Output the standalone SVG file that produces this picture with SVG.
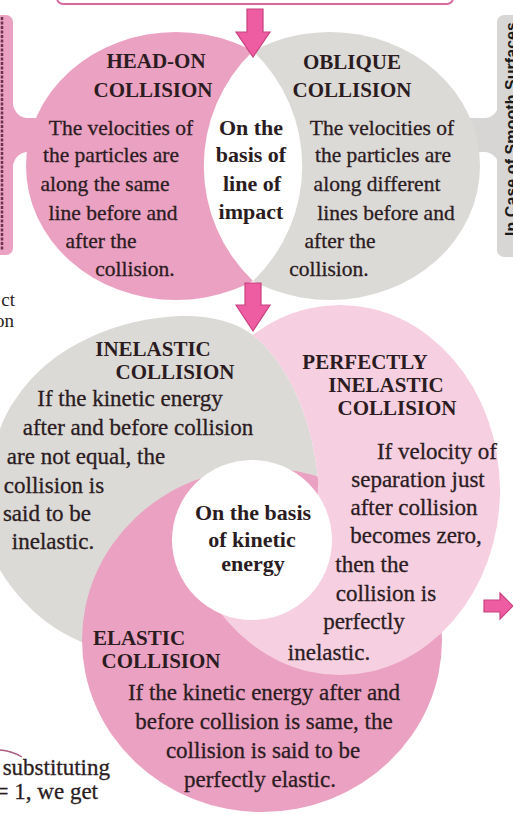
<svg xmlns="http://www.w3.org/2000/svg" width="513" height="814" viewBox="0 0 513 814">
<defs>
<style>
.t{font-family:"Liberation Serif","Times New Roman",serif;fill:#2b1c22;text-anchor:middle}
.b{font-size:21.5px;stroke:#2b1c22;stroke-width:0.3}
.bb{font-size:23px;stroke:#2b1c22;stroke-width:0.3}
.h{font-size:21px;font-weight:bold}
.c{font-size:22px;font-weight:bold}
.pink{fill:#eba1c1}
.gray{fill:#dcdad7}
.lp{fill:#f6cfe0}
.arrow{fill:#ee5ca1;stroke:#c8407f;stroke-width:1.2}
</style>
<clipPath id="leftHalf"><rect x="0" y="0" width="253" height="330"/></clipPath>
<clipPath id="rightHalf"><rect x="253" y="0" width="260" height="330"/></clipPath>
<path id="grayShape" d="M250,333 C282,356 312,410 318,480 C320,520 290,560 250,590 C200,630 160,650 120,650 C80,650 30,620 0,570 C-20,530 -15,440 15,400 C50,345 120,318 180,316 C210,315 235,322 250,333 Z"/>
<mask id="noGray" maskUnits="userSpaceOnUse" x="0" y="0" width="513" height="814"><rect x="0" y="0" width="513" height="814" fill="#fff"/><use href="#grayShape" fill="#000"/></mask>
</defs>
<rect x="0" y="0" width="513" height="814" fill="#ffffff"/>

<g id="top-box"><rect x="57" y="-20" width="396" height="24" rx="6" fill="#fff" stroke="#d86a9e" stroke-width="2"/></g>

<g id="side-left">
<rect x="-10" y="15" width="23" height="240" rx="7" class="pink"/>
<path d="M12,100 Q14,116 26,118 L40,118 L40,152 L26,152 Q14,154 12,170 Z" class="pink"/>
<line x1="2" y1="17" x2="2" y2="251" stroke="#6a3450" stroke-width="2.5" stroke-dasharray="3 1.5"/>
</g>

<g id="side-right">
<rect x="497" y="15" width="30" height="242" rx="7" fill="#d8d6d4"/>
<path d="M500,100 Q498,116 486,118 L470,118 L470,152 L486,152 Q498,154 500,170 Z" fill="#d8d6d4"/>
<text transform="translate(517,236) rotate(-90)" font-family="Liberation Sans, Arial, sans-serif" font-weight="bold" font-size="16" fill="#1a1a1a" textLength="214">In Case of Smooth Surfaces</text>
</g>

<g id="head-on">
<ellipse cx="176" cy="166" rx="150" ry="134" class="pink" clip-path="url(#leftHalf)"/>
<text class="t h" x="156" y="68">HEAD-ON</text>
<text class="t h" x="153" y="97">COLLISION</text>
<text class="t b" x="121" y="135">The velocities of</text>
<text class="t b" x="111" y="162">the particles are</text>
<text class="t b" x="105" y="191">along the same</text>
<text class="t b" x="113" y="220">line before and</text>
<text class="t b" x="101" y="248">after the</text>
<text class="t b" x="135" y="276">collision.</text>
</g>

<g id="oblique">
<ellipse cx="330" cy="166" rx="150" ry="134" class="gray" clip-path="url(#rightHalf)"/>
<text class="t h" x="352" y="69">OBLIQUE</text>
<text class="t h" x="352" y="97">COLLISION</text>
<text class="t b" x="382" y="135">The velocities of</text>
<text class="t b" x="383" y="162">the particles are</text>
<text class="t b" x="377" y="191">along different</text>
<text class="t b" x="386" y="220">lines before and</text>
<text class="t b" x="340" y="248">after the</text>
<text class="t b" x="329" y="276">collision.</text>
</g>

<g id="line-of-impact">
<path d="M253,51 A159,159 0 0,1 253,281 A159,159 0 0,1 253,51 Z" fill="#fff"/>
<text class="t c" x="251" y="135">On the</text>
<text class="t c" x="251" y="162">basis of</text>
<text class="t c" x="252" y="191">line of</text>
<text class="t c" x="251" y="219">impact</text>
</g>

<g id="inelastic">
<use href="#grayShape" class="gray"/>
<text class="t h" x="153" y="356">INELASTIC</text>
<text class="t h" x="175" y="379">COLLISION</text>
<text class="t bb" x="130" y="406">If the kinetic energy</text>
<text class="t bb" x="138" y="435">after and before collision</text>
<text class="t bb" x="86" y="464">are not equal, the</text>
<text class="t bb" x="54" y="493">collision is</text>
<text class="t bb" x="47" y="521">said to be</text>
<text class="t bb" x="53" y="549">inelastic.</text>
</g>

<g id="elastic">
<ellipse cx="262" cy="640" rx="180" ry="172" class="pink"/>
<text class="t h" x="139" y="645">ELASTIC</text>
<text class="t h" x="161" y="668">COLLISION</text>
<text class="t bb" x="264" y="700">If the kinetic energy after and</text>
<text class="t bb" x="264" y="729">before collision is same, the</text>
<text class="t bb" x="263" y="758">collision is said to be</text>
<text class="t bb" x="260" y="787">perfectly elastic.</text>
</g>

<g id="perfectly-inelastic">
<ellipse cx="340" cy="490" rx="160" ry="185" class="lp" mask="url(#noGray)"/>
<text class="t h" x="365" y="369">PERFECTLY</text>
<text class="t h" x="386" y="392">INELASTIC</text>
<text class="t h" x="397" y="415">COLLISION</text>
<text class="t bb" x="437" y="459">If velocity of</text>
<text class="t bb" x="418" y="487">separation just</text>
<text class="t bb" x="414" y="515">after collision</text>
<text class="t bb" x="416" y="543">becomes zero,</text>
<text class="t bb" x="372" y="572">then the</text>
<text class="t bb" x="386" y="601">collision is</text>
<text class="t bb" x="364" y="629">perfectly</text>
<text class="t bb" x="329" y="660">inelastic.</text>
</g>

<g id="kinetic-energy">
<circle cx="252" cy="540" r="80" fill="#fff"/>
<text class="t c" x="253" y="520">On the basis</text>
<text class="t c" x="252" y="547">of kinetic</text>
<text class="t c" x="253" y="571">energy</text>
</g>

<g id="fragments">
<text class="t" x="15" y="306" style="text-anchor:end;font-size:19px">ct</text>
<text class="t" x="14" y="327" style="text-anchor:end;font-size:19px">on</text>
<path d="M0,750 Q12,751 22,757" fill="none" stroke="#a85a80" stroke-width="1.3"/>
<text class="t bb" x="110" y="775" style="text-anchor:end">substituting</text>
<text class="t bb" x="98" y="799" style="text-anchor:end">= 1, we get</text>
</g>

<g id="connectors">
<path class="arrow" d="M247,9 L263,9 L263,32 L270,32 L253,57 L236,32 L247,32 Z"/>
<path class="arrow" d="M245,283 L261,283 L261,305 L270,305 L253,331 L236,305 L245,305 Z"/>
<path class="arrow" d="M484,600 L500,600 L500,593 L513,606 L500,619 L500,612 L484,612 Z"/>
</g>
</svg>
